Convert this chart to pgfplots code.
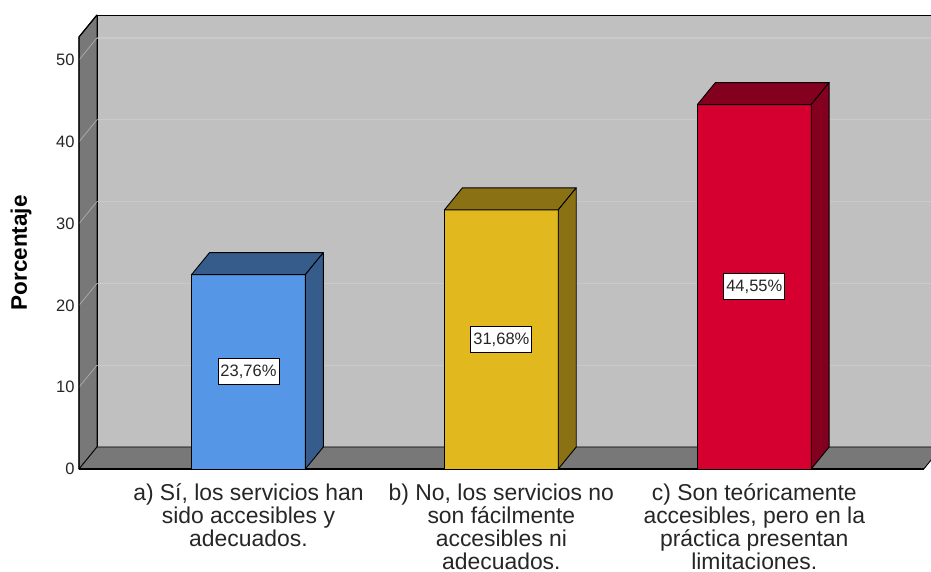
\documentclass[border=0pt]{standalone}
\usepackage{pgfplots}
\pgfplotsset{compat=1.18}
\usepackage{fontspec}
\setmainfont{Liberation Sans}
\definecolor{wallback}{HTML}{C0C0C0}
\definecolor{gridback}{HTML}{CACACA}
\definecolor{wallside}{HTML}{787878}
\definecolor{gridside}{HTML}{A8A8A8}
\definecolor{bluef}{HTML}{5596E6}
\definecolor{blued}{HTML}{365C8C}
\definecolor{yelf}{HTML}{E1B91F}
\definecolor{yeld}{HTML}{8A7114}
\definecolor{redf}{HTML}{D5002F}
\definecolor{redd}{HTML}{83001F}
\begin{document}
\begin{tikzpicture}
\begin{axis}[
  at={(0,0)}, anchor=south west,
  scale only axis,
  width=862.7pt, height=454pt,
  xmin=-0.67, xmax=2.741,
  ymin=0, ymax=55.5,
  clip=false,
  axis line style={draw=none},
  tick style={draw=none},
  ytick={0,10,20,30,40,50},
  xtick={0,1,2},
  xticklabels={{a) Sí, los servicios han\\sido accesibles y\\adecuados.},
               {b) No, los servicios no\\son fácilmente\\accesibles ni\\adecuados.},
               {c) Son teóricamente\\accesibles, pero en la\\práctica presentan\\limitaciones.}},
  xticklabel style={align=center, font=\fontsize{22.9}{23.2}\selectfont, yshift=-11pt, text=black!85},
  yticklabel style={font=\fontsize{16.5}{18}\selectfont, xshift=-1pt, text=black!85},
  /pgf/number format/assume math mode=true,
  ylabel={Porcentaje},
  ylabel style={at={(axis description cs:-0.0672,0.476)}, anchor=center, font=\fontsize{22.5}{24}\selectfont\bfseries},
  no markers,
  every axis plot/.append style={line join=round, line width=0.9pt},
]
% back wall
\addplot[fill=wallback, draw=black] coordinates {(-0.599,2.69) (2.741,2.69) (2.741,55.5) (-0.599,55.5)} -- cycle;
% back gridlines
\addplot[draw=gridback, line width=1.2pt] coordinates {(-0.599,12.69) (2.741,12.69)};
\addplot[draw=gridback, line width=1.2pt] coordinates {(-0.599,22.69) (2.741,22.69)};
\addplot[draw=gridback, line width=1.2pt] coordinates {(-0.599,32.69) (2.741,32.69)};
\addplot[draw=gridback, line width=1.2pt] coordinates {(-0.599,42.69) (2.741,42.69)};
\addplot[draw=gridback, line width=1.2pt] coordinates {(-0.599,52.69) (2.741,52.69)};
% left wall
\addplot[fill=wallside, draw=black] coordinates {(-0.67,0) (-0.599,2.69) (-0.599,55.5) (-0.67,52.81)} -- cycle;
\addplot[draw=gridside, line width=0.8pt] coordinates {(-0.67,10) (-0.599,12.69)};
\addplot[draw=gridside, line width=0.8pt] coordinates {(-0.67,20) (-0.599,22.69)};
\addplot[draw=gridside, line width=0.8pt] coordinates {(-0.67,30) (-0.599,32.69)};
\addplot[draw=gridside, line width=0.8pt] coordinates {(-0.67,40) (-0.599,42.69)};
\addplot[draw=gridside, line width=0.8pt] coordinates {(-0.67,50) (-0.599,52.69)};
\addplot[draw=gridside, line width=0.8pt] coordinates {(-0.67,0) (-0.599,2.69)};
% floor
\addplot[fill=wallside, draw=black] coordinates {(-0.67,0) (2.67,0) (2.741,2.69) (-0.599,2.69)} -- cycle;
% left front edge
\addplot[draw=black, line width=1.2pt] coordinates {(-0.67,0) (-0.67,52.81) (-0.599,55.5)};
\addplot[draw=black, line width=1.2pt] coordinates {(-0.67,0) (2.67,0)};
% bar 1 (23.76)
\addplot[fill=bluef, draw=black] coordinates {(-0.225,0) (0.225,0) (0.225,23.76) (-0.225,23.76)} -- cycle;
\addplot[fill=blued, draw=black] coordinates {(-0.225,23.76) (0.225,23.76) (0.296,26.45) (-0.154,26.45)} -- cycle;
\addplot[fill=blued, draw=black] coordinates {(0.225,0) (0.296,2.69) (0.296,26.45) (0.225,23.76)} -- cycle;
% bar 2 (31.68)
\addplot[fill=yelf, draw=black] coordinates {(0.775,0) (1.225,0) (1.225,31.68) (0.775,31.68)} -- cycle;
\addplot[fill=yeld, draw=black] coordinates {(0.775,31.68) (1.225,31.68) (1.296,34.37) (0.846,34.37)} -- cycle;
\addplot[fill=yeld, draw=black] coordinates {(1.225,0) (1.296,2.69) (1.296,34.37) (1.225,31.68)} -- cycle;
% bar 3 (44.55)
\addplot[fill=redf, draw=black] coordinates {(1.775,0) (2.225,0) (2.225,44.55) (1.775,44.55)} -- cycle;
\addplot[fill=redd, draw=black] coordinates {(1.775,44.55) (2.225,44.55) (2.296,47.24) (1.846,47.24)} -- cycle;
\addplot[fill=redd, draw=black] coordinates {(2.225,0) (2.296,2.69) (2.296,47.24) (2.225,44.55)} -- cycle;
% value labels
\tikzset{vlab/.style={fill=white, draw=black, line width=0.8pt, font=\fontsize{16.5}{18}\selectfont, inner xsep=2.5pt, minimum height=26pt, text=black!85}}
\node[vlab] at (axis cs:0,11.88) {23,76\%};
\node[vlab] at (axis cs:1,15.84) {31,68\%};
\node[vlab] at (axis cs:2,22.275) {44,55\%};
\end{axis}
\pgfresetboundingbox
\path[use as bounding box] (-79pt,-103pt) rectangle (852pt,469pt);
\end{tikzpicture}
\end{document}
